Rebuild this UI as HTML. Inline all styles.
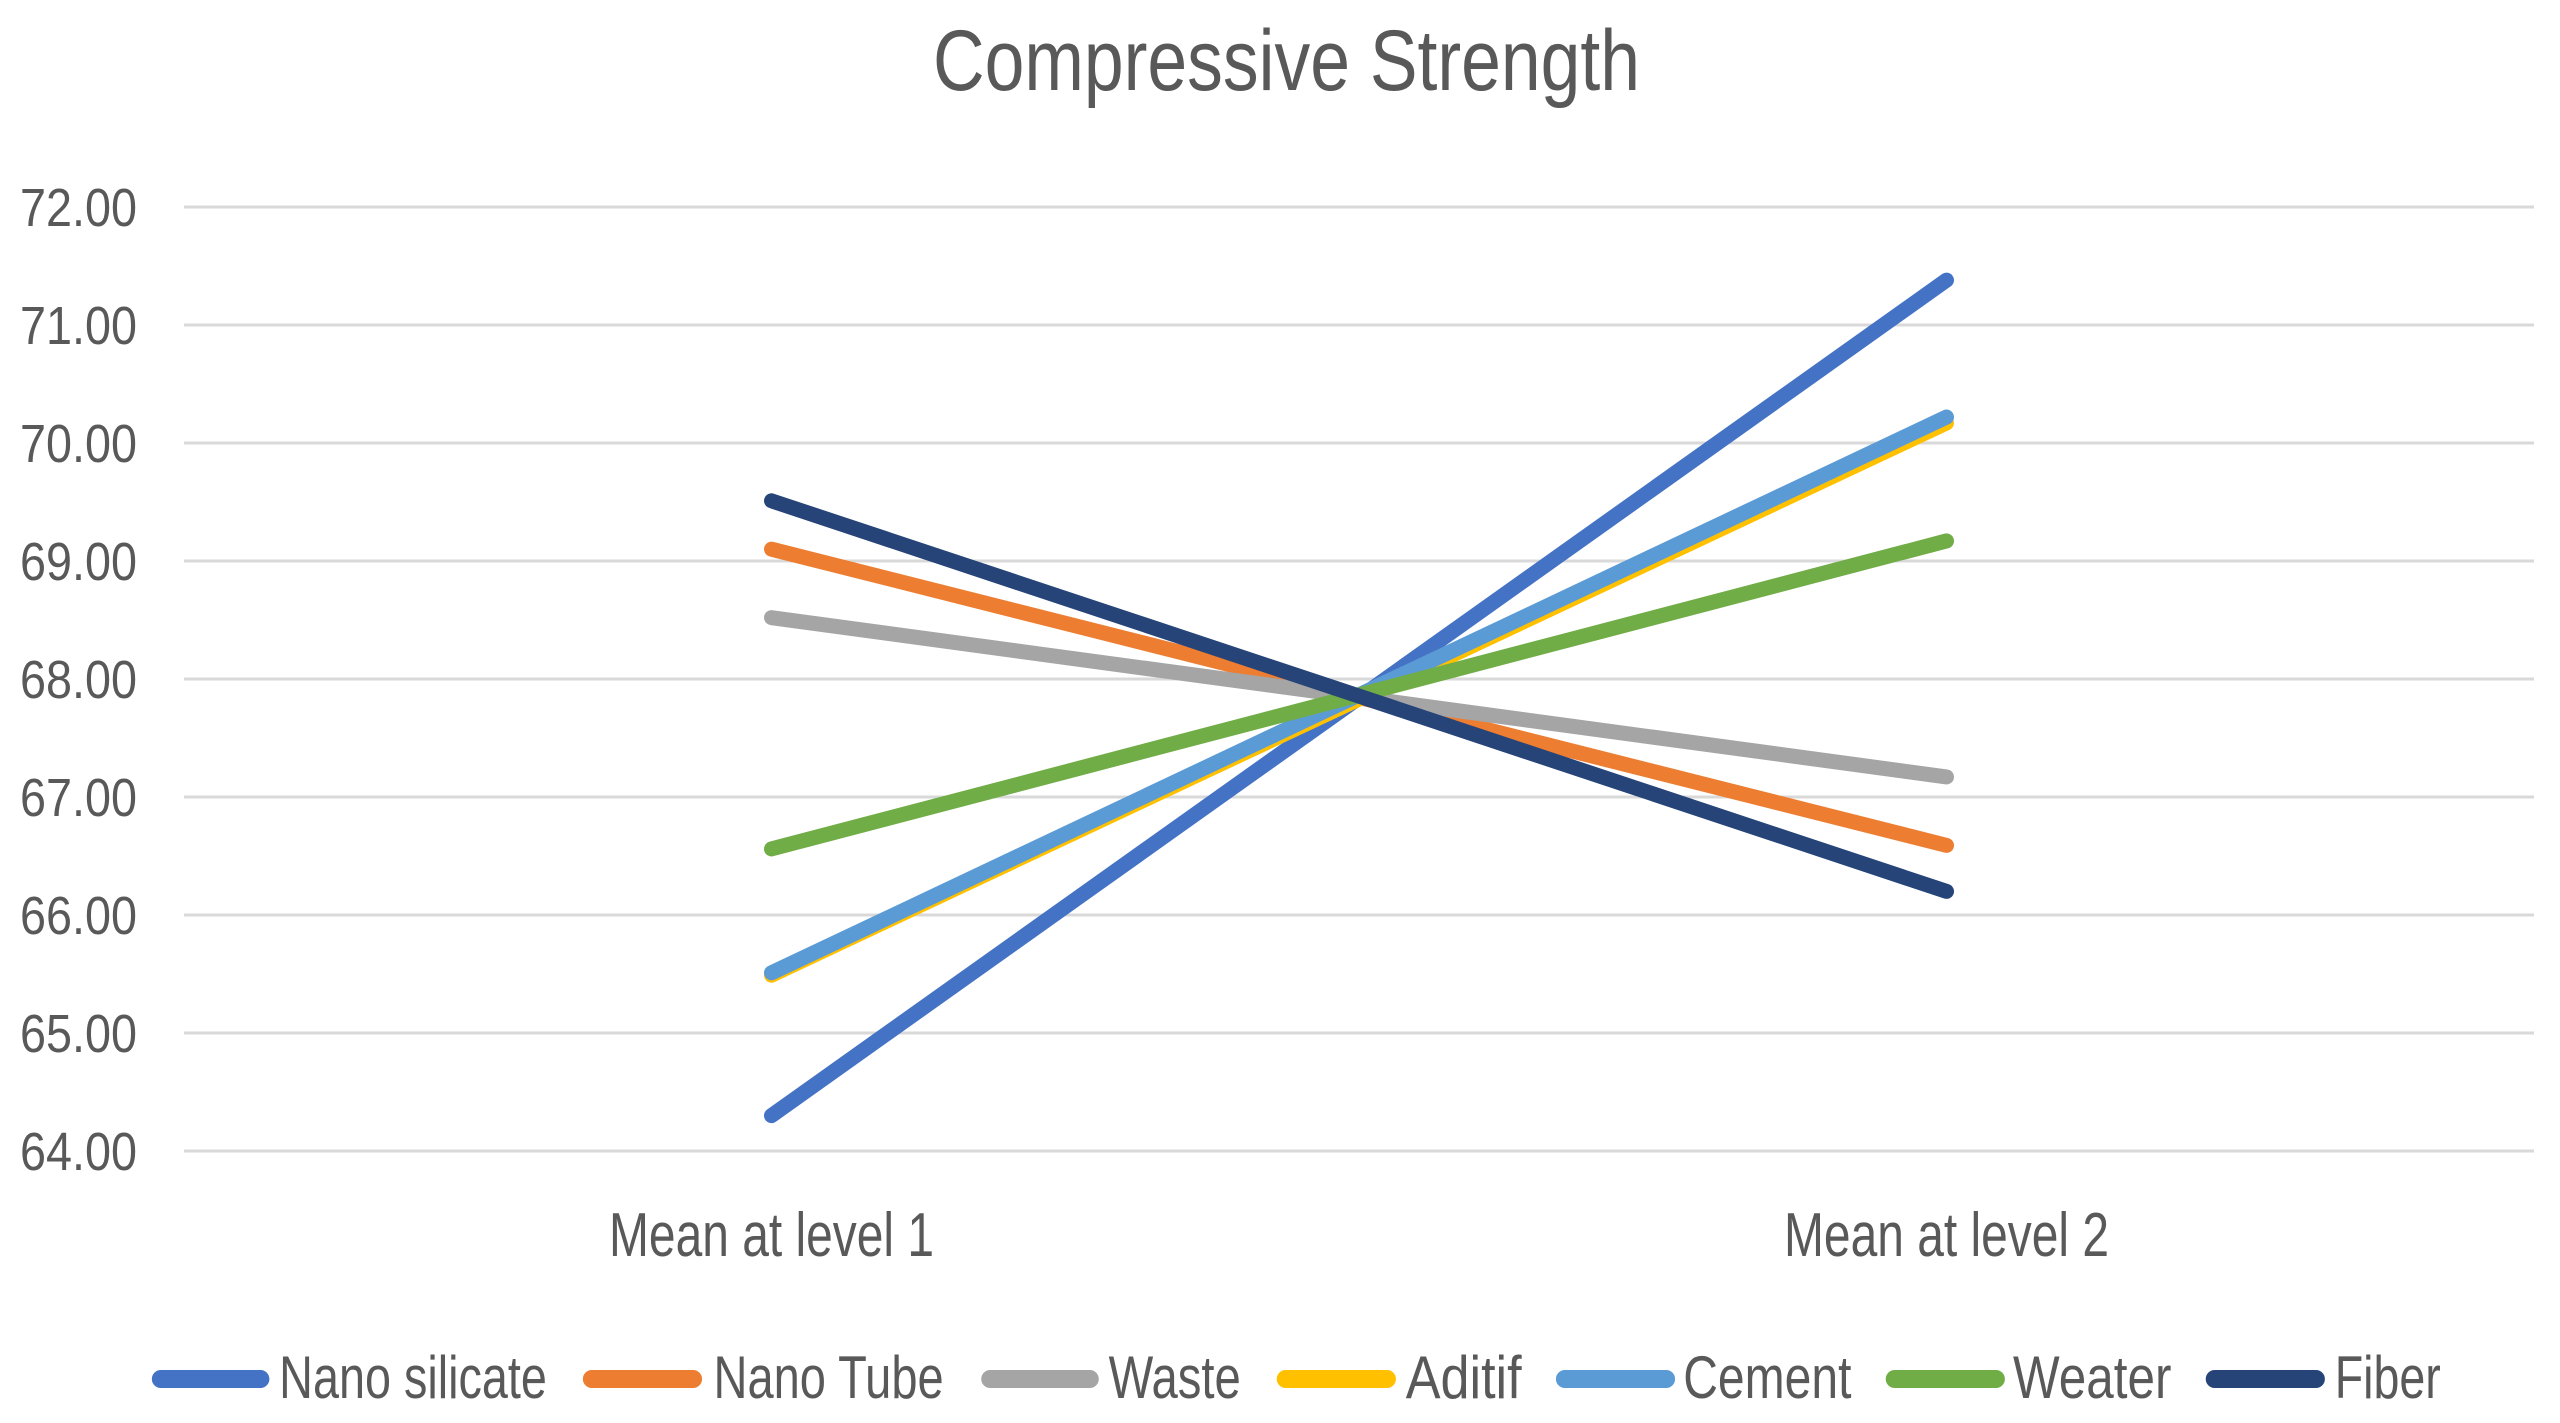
<!DOCTYPE html>
<html><head><meta charset="utf-8"><style>
html,body{margin:0;padding:0;background:#fff;}
svg{display:block;}
text{font-family:"Liberation Sans",sans-serif;fill:#595959;}
</style></head><body>
<svg id="chart" width="2560" height="1423" viewBox="0 0 2560 1423" xmlns="http://www.w3.org/2000/svg">
<text x="933" y="90" font-size="86" textLength="707" lengthAdjust="spacingAndGlyphs">Compressive Strength</text>
<g id="grid"></g>
<g id="ylabels"></g>
<g id="xlabels"></g>
<g id="series"></g>
<g id="legend"></g>
</svg>
<script>
const categories = ["Mean at level 1", "Mean at level 2"];
const seriesNames = ["Nano silicate","Nano Tube","Waste","Aditif","Cement","Weater","Fiber"];
const nanoSilicate = [64.30, 71.38];
const nanoTube = [69.10, 66.59];
const waste = [68.52, 67.17];
const aditif = [65.49, 70.17];
const cement = [65.51, 70.22];
const weater = [66.56, 69.17];
const fiber = [69.51, 66.20];
const yTicks = [64,65,66,67,68,69,70,71,72];
const yTickLabels = ["64.00","65.00","66.00","67.00","68.00","69.00","70.00","71.00","72.00"];

const colors = ["#4472C4","#ED7D31","#A5A5A5","#FFC000","#5B9BD5","#70AD47","#264478"];
const seriesData = [nanoSilicate, nanoTube, waste, aditif, cement, weater, fiber];
const NS = "http://www.w3.org/2000/svg";
const plotL = 184, plotR = 2534, plotT = 207, plotB = 1151;
const yMin = 64, yMax = 72;
function yScale(v){ return plotB - (v - yMin) / (yMax - yMin) * (plotB - plotT); }
function xScale(i){ const w = (plotR - plotL) / categories.length; return plotL + w * (i + 0.5); }
function mk(tag, attrs, parent){ const e = document.createElementNS(NS, tag); for (const k in attrs) e.setAttribute(k, attrs[k]); parent.appendChild(e); return e; }

const grid = document.getElementById('grid');
const yl = document.getElementById('ylabels');
yTicks.forEach((t, i) => {
  const y = yScale(t);
  const l = mk('line', {x1: plotL, x2: plotR, y1: y, y2: y, stroke: '#d9d9d9', 'stroke-width': 3}, grid);
  
  
  const tx = mk('text', {x: 137, y: y + 19, 'font-size': 54, 'text-anchor': 'end', textLength: 117, lengthAdjust: 'spacingAndGlyphs'}, yl);
  tx.textContent = yTickLabels[i];
  
  
});

const xl = document.getElementById('xlabels');
categories.forEach((c, i) => {
  const tx = mk('text', {x: xScale(i), y: 1256, 'font-size': 62, 'text-anchor': 'middle', textLength: 325, lengthAdjust: 'spacingAndGlyphs'}, xl);
  tx.textContent = c;
  
  
});

const sg = document.getElementById('series');
seriesData.forEach((d, s) => {
  const pts = d.map((v, i) => xScale(i) + ',' + yScale(v)).join(' ');
  const pl = mk('polyline', {points: pts, fill: 'none', stroke: colors[s], 'stroke-width': 15, 'stroke-linecap': 'round', 'stroke-linejoin': 'round'}, sg);
  
  
});

const lg = document.getElementById('legend');
const legLine = [[93,165],[357,430],[601,673],[782,855],[953,1026],[1155,1228],[1351,1424]];
const legText = [[171,335],[437,578],[679,760],[861,932],[1031,1134],[1233,1330],[1430,1495]];
const k = 2560 / 1568;
seriesNames.forEach((n, s) => {
  const ln = mk('line', {x1: legLine[s][0] * k + 9, x2: legLine[s][1] * k - 9, y1: 1379, y2: 1379, stroke: colors[s], 'stroke-width': 18, 'stroke-linecap': 'round'}, lg);
  
  
  const tx = mk('text', {x: legText[s][0] * k, y: 1398, 'font-size': 60, textLength: (legText[s][1] - legText[s][0]) * k, lengthAdjust: 'spacingAndGlyphs'}, lg);
  tx.textContent = n;
  
  
});
</script>
</body></html>
